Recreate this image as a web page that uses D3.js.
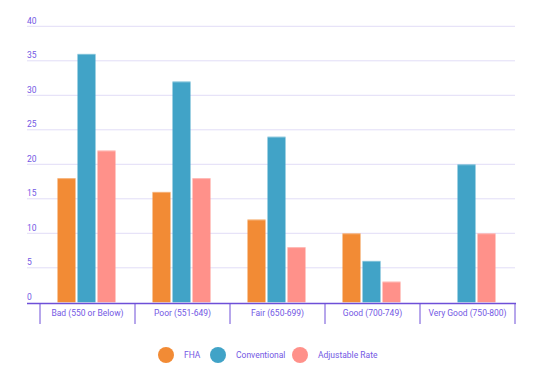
<!DOCTYPE html>
<html>
<head>
<meta charset="utf-8">
<script src="https://cdn.jsdelivr.net/npm/d3@7"></script>
<style>
    body { margin: 0; background: #fff; }
    text { font-family: Roboto, sans-serif; }
</style>
</head>
<body>
<svg id="chart-container" width="542" height="390"></svg>
<script>
// Data
var categories = ["Bad (550 or Below)", "Poor (551-649)", "Fair (650-699)", "Good (700-749)", "Very Good (750-800)"];
var seriesNames = ["FHA", "Conventional", "Adjustable Rate"];
var fha = [18, 16, 12, 10, 0];
var conventional = [36, 32, 24, 6, 20];
var adjustable = [22, 18, 8, 3, 10];
var yTicks = [0, 5, 10, 15, 20, 25, 30, 35, 40];

var colors = ["#f28b35", "#41a3c7", "#ff918a"];
var textColor = "#7358e4";
var axisColor = "#6e4fd8";
var gridColor = "#e2ddf7";

var seriesValues = [fha, conventional, adjustable];
var data = categories.map((c, i) => ({
    category: c,
    values: seriesNames.map((s, j) => ({ series: s, value: seriesValues[j][i] }))
}));

var svg = d3.select("#chart-container");

var plotLeft = 27, plotRight = 515;
var x = d3.scaleBand()
    .domain(categories)
    .range([40, 515]);

// 18px bars, 2px gaps
var x1 = d3.scaleBand()
    .domain(seriesNames)
    .range([0, 58])
    .paddingInner(0.1);

var y = d3.scaleLinear()
    .domain([0, 40])
    .range([302.3, 26.3]);

// gridlines and y labels
var grid = svg.append("g");
grid.selectAll("line")
    .data(yTicks.filter(d => d > 0))
    .join("line")
        .attr("x1", plotLeft)
        .attr("x2", plotRight)
        .attr("y1", d => y(d))
        .attr("y2", d => y(d))
        .attr("stroke", gridColor)
        .attr("stroke-width", 1);

grid.selectAll("text")
    .data(yTicks)
    .join("text")
        .attr("x", plotLeft)
        .attr("y", d => y(d) - 2.5)
        .attr("fill", textColor)
        .attr("font-size", 8.5)
        .text(d => d);

// bars
var groups = svg.append("g")
    .selectAll("g")
    .data(data)
    .join("g")
        .attr("transform", d => `translate(${x(d.category) + x.bandwidth() / 2 - 30},0)`);

groups.selectAll("rect.bar")
    .data(d => d.values.filter(v => v.value > 0))
    .join("rect")
        .attr("class", "bar")
        .attr("x", d => x1(d.series))
        .attr("width", x1.bandwidth())
        .attr("y", d => y(d.value))
        .attr("height", d => y(0) - y(d.value))
        .attr("fill", (d) => colors[seriesNames.indexOf(d.series)]);

// light top edge on bars
groups.selectAll("rect.cap")
    .data(d => d.values.filter(v => v.value > 0))
    .join("rect")
        .attr("class", "cap")
        .attr("x", d => x1(d.series))
        .attr("width", x1.bandwidth())
        .attr("y", d => y(d.value))
        .attr("height", 1)
        .attr("fill", "#fff")
        .attr("opacity", 0.35);

// x axis
var xAxis = svg.append("g");
xAxis.append("line")
    .attr("x1", plotLeft)
    .attr("x2", plotRight + 1)
    .attr("y1", 303.5)
    .attr("y2", 303.5)
    .attr("stroke", axisColor)
    .attr("stroke-width", 1.6);

var bounds = categories.map(c => x(c)).concat([x.range()[1]]);
xAxis.selectAll("line.tick")
    .data(bounds)
    .join("line")
        .attr("class", "tick")
        .attr("x1", d => d)
        .attr("x2", d => d)
        .attr("y1", 303)
        .attr("y2", 324)
        .attr("stroke", axisColor)
        .attr("stroke-width", 1);

xAxis.selectAll("text")
    .data(categories)
    .join("text")
        .attr("x", d => x(d) + x.bandwidth() / 2)
        .attr("y", 316)
        .attr("text-anchor", "middle")
        .attr("fill", textColor)
        .attr("font-size", 8.5)
        .text(d => d);

// legend
var legendX = [166, 218, 300];
var legend = svg.append("g")
    .selectAll("g")
    .data(seriesNames)
    .join("g")
        .attr("transform", (d, i) => `translate(${legendX[i]},355)`);

legend.append("circle")
    .attr("r", 8)
    .attr("fill", (d, i) => colors[i]);

legend.append("text")
    .attr("x", 18)
    .attr("y", 3)
    .attr("fill", textColor)
    .attr("font-size", 8.5)
    .text(d => d);
</script>
</body>
</html>
